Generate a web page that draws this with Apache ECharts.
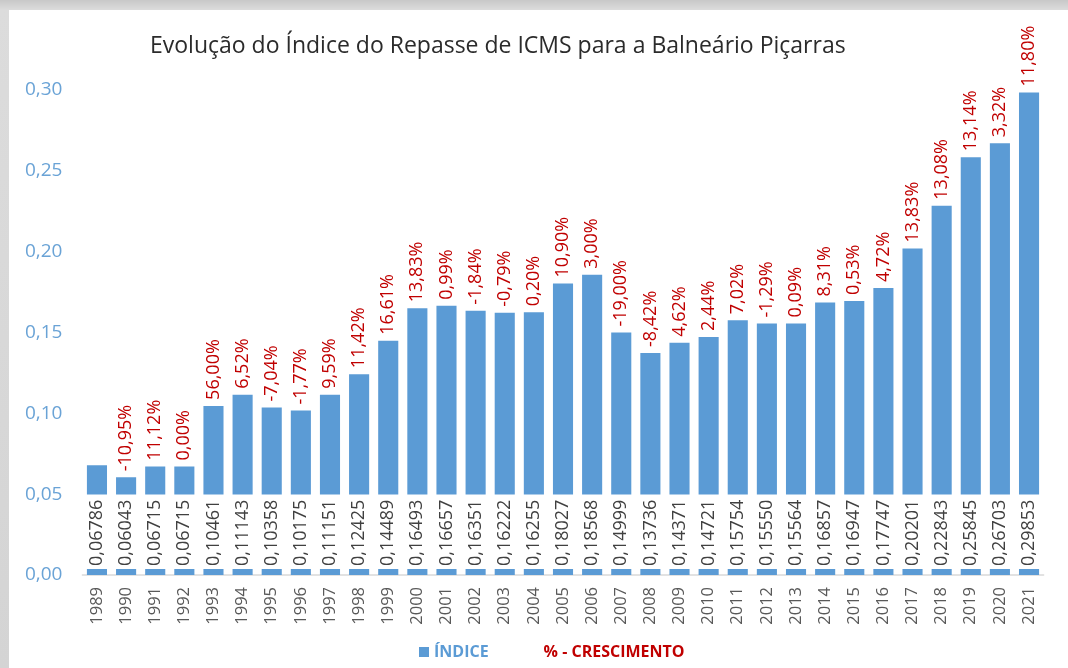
<!DOCTYPE html>
<html>
<head>
<meta charset="utf-8">
<script src="https://cdn.jsdelivr.net/npm/echarts@6/dist/echarts.min.js"></script>
<style>
  html, body {
    margin: 0;
    width: 1068px;
    height: 668px;
    overflow: hidden;
    background: linear-gradient(#c8c8c8, #dcdcdc 10px, #d4d4d4);
  }
  #chart {
    position: absolute;
    left: 9px;
    top: 10px;
    width: 1059px;
    height: 658px;
    background: #fff;
  }
</style>
</head>
<body>
<div id="chart"></div>
<script>
var anos = ['1989', '1990', '1991', '1992', '1993', '1994', '1995', '1996', '1997', '1998',
  '1999', '2000', '2001', '2002', '2003', '2004', '2005', '2006', '2007', '2008',
  '2009', '2010', '2011', '2012', '2013', '2014', '2015', '2016', '2017', '2018',
  '2019', '2020', '2021']

var indice = [0.06786, 0.06043, 0.06715, 0.06715, 0.10461, 0.11143, 0.10358, 0.10175, 0.11151, 0.12425,
  0.14489, 0.16493, 0.16657, 0.16351, 0.16222, 0.16255, 0.18027, 0.18568, 0.14999, 0.13736,
  0.14371, 0.14721, 0.15754, 0.15550, 0.15564, 0.16857, 0.16947, 0.17747, 0.20201, 0.22843,
  0.25845, 0.26703, 0.29853]

// crescimento em % (1989 sem valor)
var crescimento = [null, -10.95, 11.12, 0.00, 56.00, 6.52, -7.04, -1.77, 9.59, 11.42,
  16.61, 13.83, 0.99, -1.84, -0.79, 0.20, 10.90, 3.00, -19.00, -8.42,
  4.62, 2.44, 7.02, -1.29, 0.09, 8.31, 0.53, 4.72, 13.83, 13.08,
  13.14, 3.32, 11.80]

var yTicks = { min: 0, max: 0.30, interval: 0.05 }

var fonte = '"Open Sans", "Noto Sans", sans-serif'
var azul = '#5b9bd5'
var vermelho = '#c00000'

function virgula (v, casas) {
  return v.toFixed(casas).replace('.', ',')
}

var myChart = echarts.init(document.getElementById('chart'))

var option = {
  backgroundColor: '#fff',
  animation: false,
  textStyle: { fontFamily: fonte },
  title: {
    text: 'Evolução do Índice do Repasse de ICMS para a Balneário Piçarras',
    left: 141,
    top: 25,
    padding: 0,
    textStyle: {
      fontFamily: fonte,
      fontSize: 23,
      fontWeight: 'normal',
      color: '#2b2b2b'
    }
  },
  legend: {
    left: 405,
    top: 629,
    itemWidth: 10,
    itemHeight: 10,
    itemGap: 40,
    textStyle: { fontFamily: fonte, fontSize: 16, fontWeight: 'bold' },
    data: [
      { name: 'ÍNDICE', icon: 'rect', textStyle: { color: azul } },
      { name: '% - CRESCIMENTO', icon: 'none', textStyle: { color: vermelho } }
    ]
  },
  grid: {
    left: 73.4,
    right: 24.4,
    top: 80,
    bottom: 93
  },
  xAxis: {
    type: 'category',
    data: anos,
    axisLine: { lineStyle: { color: '#d9d9d9', width: 1.5 } },
    axisTick: { show: false },
    axisLabel: {
      rotate: 90,
      margin: 12,
      color: '#595959',
      fontFamily: fonte,
      fontSize: 16.5
    }
  },
  yAxis: {
    type: 'value',
    min: yTicks.min,
    max: yTicks.max,
    interval: yTicks.interval,
    splitLine: { show: false },
    axisLine: { show: false },
    axisTick: { show: false },
    axisLabel: {
      margin: 20,
      color: '#6aa3d6',
      fontFamily: fonte,
      fontSize: 19,
      formatter: function (v) { return virgula(v, 2) }
    }
  },
  series: [
    {
      name: 'ÍNDICE',
      type: 'bar',
      barWidth: '69%',
      itemStyle: { color: azul },
      data: indice,
      label: {
        show: true,
        position: 'insideBottom',
        distance: 6,
        rotate: 90,
        align: 'left',
        verticalAlign: 'middle',
        color: '#404040',
        fontFamily: fonte,
        fontSize: 18,
        backgroundColor: '#fff',
        padding: [4, 5, 4, 3],
        formatter: function (p) { return virgula(p.value, 5) }
      }
    },
    {
      name: '% - CRESCIMENTO',
      type: 'bar',
      barWidth: '69%',
      barGap: '-100%',
      itemStyle: { color: 'rgba(0,0,0,0)' },
      data: indice,
      label: {
        show: true,
        position: 'top',
        distance: 6,
        rotate: 90,
        align: 'left',
        verticalAlign: 'middle',
        color: vermelho,
        fontFamily: fonte,
        fontSize: 18,
        formatter: function (p) {
          var c = crescimento[p.dataIndex]
          return c === null ? '' : virgula(c, 2) + '%'
        }
      }
    }
  ]
}

myChart.setOption(option)
</script>
</body>
</html>
